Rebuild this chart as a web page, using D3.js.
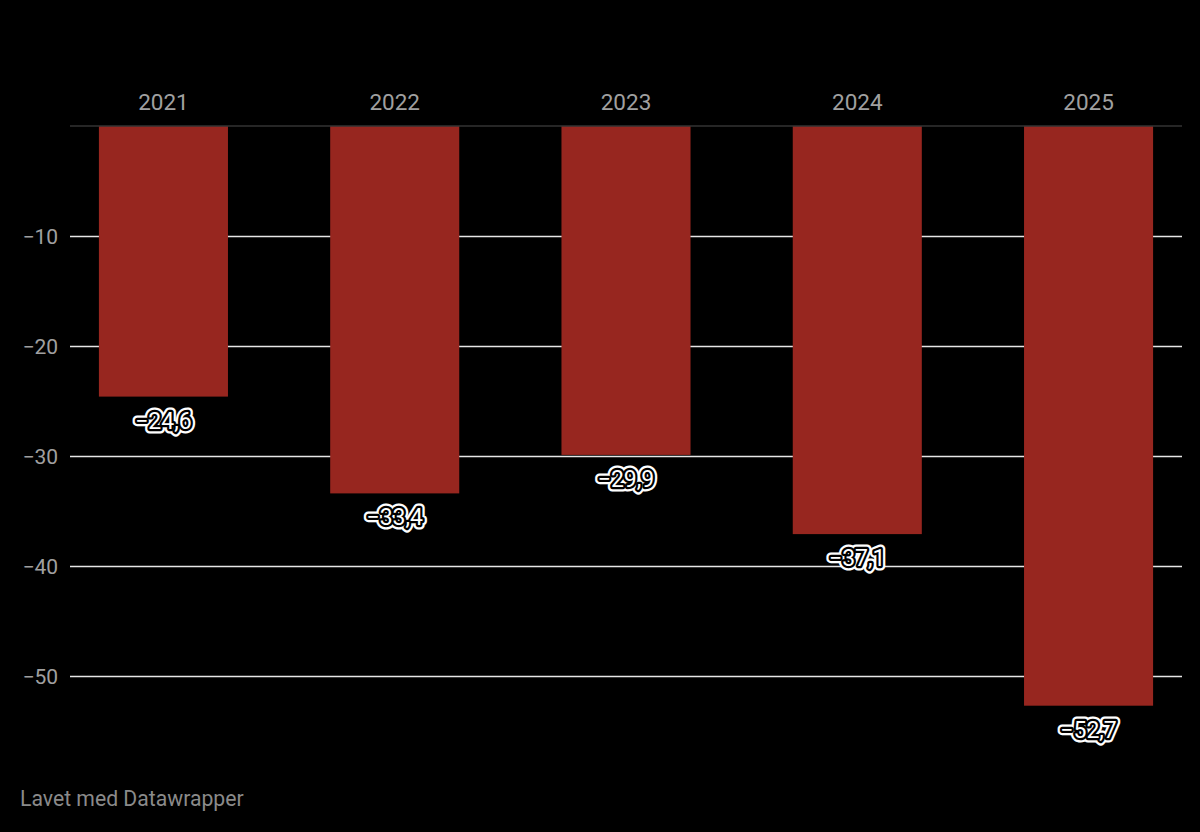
<!DOCTYPE html>
<html>
<head>
<meta charset="utf-8">
<script src="https://cdn.jsdelivr.net/npm/d3@7"></script>
<style>
  body { margin: 0; background: #000; }
  svg { display: block; font-family: Roboto, "Noto Sans", sans-serif; }
</style>
</head>
<body>
<script>
// data
var years = ["2021", "2022", "2023", "2024", "2025"];
var values = [-24.6, -33.4, -29.9, -37.1, -52.7];
var yTicks = [-10, -20, -30, -40, -50];

var svgWidth = 1200;
var svgHeight = 832;

var chartMargin = { top: 126, left: 70, right: 18 };

var svg = d3.select("body")
  .append("svg")
  .attr("width", svgWidth)
  .attr("height", svgHeight);

svg.append("rect")
  .attr("width", svgWidth)
  .attr("height", svgHeight)
  .attr("fill", "#000");

// scales
var xBandScale = d3.scaleBand()
  .domain(years)
  .range([chartMargin.left, svgWidth - chartMargin.right])
  .paddingInner(0.442)
  .paddingOuter(0.125);

var yLinearScale = d3.scaleLinear()
  .domain([0, -50])
  .range([chartMargin.top, chartMargin.top + 550]);

var fmt = function(v) { return d3.format(".1f")(v).replace(".", ",").replace("-", "\u2212"); };

// gridlines
svg.append("g")
  .selectAll("line")
  .data(yTicks)
  .enter()
  .append("line")
  .attr("x1", chartMargin.left)
  .attr("x2", svgWidth - chartMargin.right)
  .attr("y1", d => Math.round(yLinearScale(d)) + 0.5)
  .attr("y2", d => Math.round(yLinearScale(d)) + 0.5)
  .attr("stroke", "#e6e6e6")
  .attr("stroke-width", 1.6);

// y tick labels
svg.append("g")
  .selectAll("text")
  .data(yTicks)
  .enter()
  .append("text")
  .attr("x", 58)
  .attr("y", d => yLinearScale(d) + 8)
  .attr("text-anchor", "end")
  .attr("fill", "#a0a0a0")
  .style("font-size", "21px")
  .text(d => String(d).replace("-", "\u2212"));

// bars
svg.append("g")
  .selectAll("rect")
  .data(values)
  .enter()
  .append("rect")
  .attr("x", (d, i) => xBandScale(years[i]))
  .attr("y", yLinearScale(0))
  .attr("width", xBandScale.bandwidth())
  .attr("height", d => yLinearScale(d) - yLinearScale(0))
  .attr("fill", "#97261f");

// zero line
svg.append("line")
  .attr("x1", chartMargin.left)
  .attr("x2", svgWidth - chartMargin.right)
  .attr("y1", yLinearScale(0))
  .attr("y2", yLinearScale(0))
  .attr("stroke", "#333")
  .attr("stroke-width", 1.5);

// year labels on top
var topAxis = d3.axisTop(xBandScale).tickSize(0).tickPadding(0);
var axisG = svg.append("g")
  .attr("transform", "translate(0," + 110 + ")")
  .call(topAxis);
axisG.select(".domain").remove();
axisG.selectAll("text")
  .attr("fill", "#a0a0a0")
  .attr("dy", 0)
  .style("font-family", "Roboto, sans-serif")
  .style("font-size", "22.5px");

// value labels with halo
var labels = svg.append("g")
  .selectAll("g")
  .data(values)
  .enter()
  .append("g")
  .attr("transform", (d, i) => "translate(" + (xBandScale(years[i]) + xBandScale.bandwidth() / 2) + "," + (yLinearScale(d) + 32) + ")");

labels.append("text")
  .attr("text-anchor", "middle")
  .style("font-size", "23px")
  .attr("fill", "#fff")
  .attr("stroke", "#fff")
  .attr("stroke-width", 9)
  .attr("stroke-linejoin", "round")
  .text(fmt);

labels.append("text")
  .attr("text-anchor", "middle")
  .style("font-size", "23px")
  .attr("fill", "#fff")
  .attr("stroke", "#000")
  .attr("stroke-width", 4.5)
  .attr("stroke-linejoin", "round")
  .attr("paint-order", "stroke")
  .text(fmt);

// footer
svg.append("text")
  .attr("x", 20)
  .attr("y", 806)
  .attr("fill", "#8a8a8a")
  .style("font-size", "21.2px")
  .text("Lavet med Datawrapper");
</script>
</body>
</html>
